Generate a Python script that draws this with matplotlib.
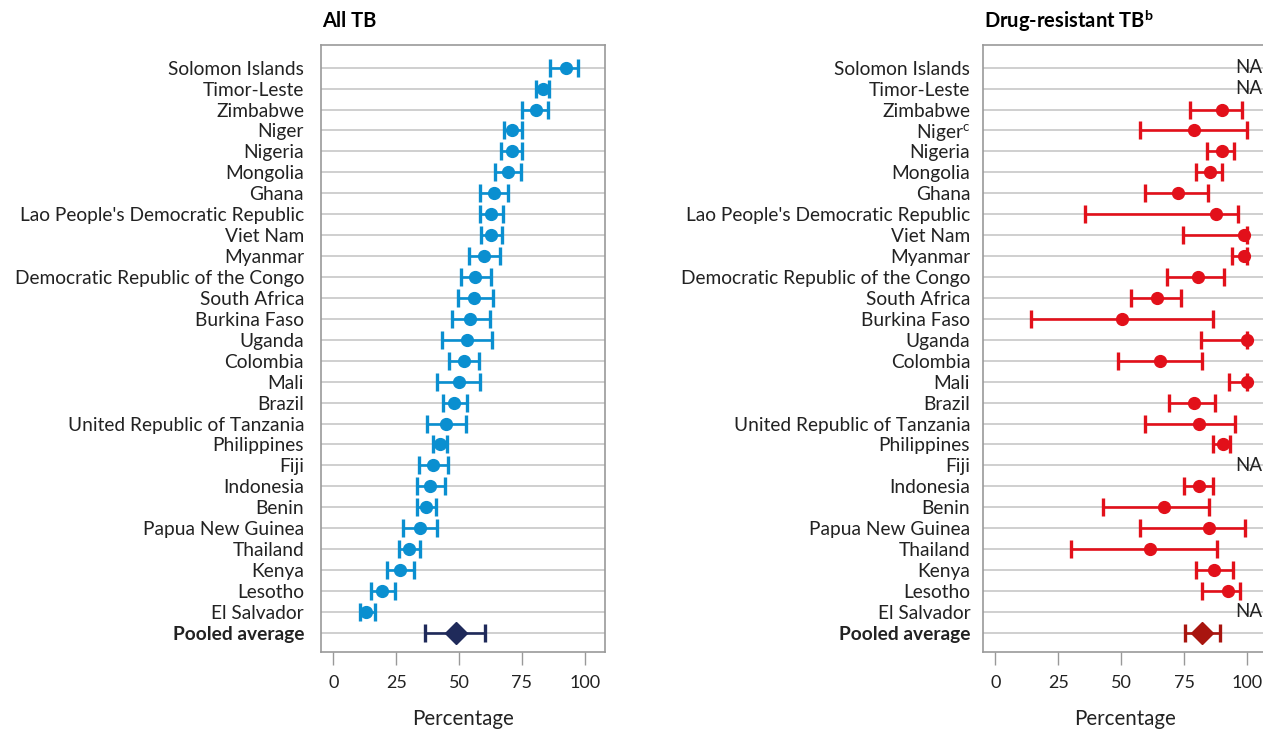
import numpy as np
import matplotlib.pyplot as plt

plt.rcParams['font.family'] = ['Lato', 'DejaVu Sans']
plt.rcParams['mathtext.fontset'] = 'custom'
plt.rcParams['mathtext.rm'] = 'Lato'
plt.rcParams['mathtext.bf'] = 'Lato:bold'

# countries, top to bottom
countries = ["Solomon Islands", "Timor-Leste", "Zimbabwe", "Niger", "Nigeria", "Mongolia",
             "Ghana", "Lao People's Democratic Republic", "Viet Nam", "Myanmar",
             "Democratic Republic of the Congo", "South Africa", "Burkina Faso", "Uganda",
             "Colombia", "Mali", "Brazil", "United Republic of Tanzania", "Philippines", "Fiji",
             "Indonesia", "Benin", "Papua New Guinea", "Thailand", "Kenya", "Lesotho", "El Salvador"]

# All TB: estimate, lower, upper
all_est = [92.4, 83.4, 80.4, 71.2, 71.0, 69.3, 63.8, 62.8, 62.6, 60.1, 56.5, 56.1, 54.4, 53.3,
           51.8, 49.8, 48.0, 44.9, 42.5, 39.7, 38.5, 36.9, 34.3, 30.0, 26.4, 19.2, 13.0]
all_lo = [86.1, 80.5, 75.0, 67.8, 66.6, 64.2, 58.5, 58.3, 58.6, 53.9, 50.7, 49.5, 47.2, 43.3,
          46.1, 41.3, 43.5, 37.3, 39.6, 34.0, 33.2, 33.2, 27.6, 26.0, 21.4, 15.0, 10.7]
all_hi = [97.1, 85.8, 85.2, 75.2, 75.2, 74.6, 69.4, 67.3, 67.0, 66.2, 62.6, 63.3, 62.2, 63.1,
          57.9, 58.3, 53.0, 52.8, 45.4, 45.8, 44.3, 40.8, 41.4, 34.4, 31.9, 24.5, 16.6]
all_pool = [48.6, 36.5, 60.5]

# Drug-resistant TB (None = NA)
dr_est = [None, None, 90.2, 79.1, 90.0, 85.3, 72.8, 87.6, 98.7, 99.0, 80.7, 64.3, 50.2, 100.0,
          65.4, 100.0, 78.9, 80.8, 90.4, None, 81.1, 67.1, 84.8, 61.4, 86.9, 92.4, None]
dr_lo = [None, None, 77.2, 57.7, 84.0, 79.9, 59.3, 35.7, 74.4, 93.9, 68.2, 53.8, 14.3, 81.9,
         48.9, 92.7, 69.2, 59.3, 86.4, None, 75.1, 42.7, 57.7, 30.2, 79.6, 82.0, None]
dr_hi = [None, None, 97.9, 100.0, 95.0, 90.0, 84.4, 96.3, 100.0, 100.0, 90.9, 74.0, 86.4, 100.0,
         82.0, 100.0, 87.3, 95.3, 93.1, None, 86.4, 84.9, 99.1, 88.0, 94.3, 97.1, None]
dr_pool = [82.3, 75.2, 89.4]

fig = plt.figure(figsize=(12.63, 7.31), dpi=100)
ax1 = fig.add_axes([0.2539, 0.1085, 0.2251, 0.8304])
ax2 = fig.add_axes([0.7781, 0.1085, 0.2251, 0.8304])

n = len(countries)
rows = np.arange(n + 1)

def style(ax, labels, pad):
    ax.set_xlim(-5, 108)
    ax.set_ylim(n + 0.9, -1.1)
    ax.set_yticks(rows)
    ax.set_yticklabels(labels, fontsize=13.8, color='#222222')
    ax.get_yticklabels()[-1].set_fontweight('bold')
    ax.tick_params(axis='y', length=0, pad=pad)
    ax.set_xticks([0, 25, 50, 75, 100])
    ax.tick_params(axis='x', length=9, color='#999999', width=1, labelsize=13, pad=8,
                   labelcolor='#222222')
    ax.grid(axis='y', color='#cccccc', linewidth=1.3)
    ax.set_axisbelow(True)
    for s in ax.spines.values():
        s.set_color('#999999')
        s.set_linewidth(1.2)
    ax.set_xlabel('Percentage', fontsize=14.8, labelpad=13, color='#222222')

style(ax1, countries + ['Pooled average'], 12)
dr_labels = list(countries)
dr_labels[3] = r'Niger$^{\mathrm{c}}$'
style(ax2, dr_labels + ['Pooled average'], 9)

blue = '#0a8fd0'
red = '#e2101a'

est = np.array(all_est)
ax1.errorbar(est, rows[:n], xerr=[est - np.array(all_lo), np.array(all_hi) - est],
             fmt='o', color=blue, ms=8.5, capsize=6.5, capthick=2.4, elinewidth=1.9, zorder=3)
ax1.errorbar([all_pool[0]], [n], xerr=[[all_pool[0] - all_pool[1]], [all_pool[2] - all_pool[0]]],
             fmt='D', color='#1f2a5a', ms=11, capsize=6.5, capthick=2.4, elinewidth=1.9, zorder=3)

for i in range(n):
    if dr_est[i] is None:
        ax2.text(106.0, i, 'NA', ha='right', va='center', fontsize=13.5, color='#222222')
        continue
    e = dr_est[i]
    ax2.errorbar([e], [i], xerr=[[e - dr_lo[i]], [dr_hi[i] - e]], fmt='o', color=red, ms=8.5,
                 capsize=6.5, capthick=2.4, elinewidth=1.9, zorder=3, clip_on=False)
ax2.errorbar([dr_pool[0]], [n], xerr=[[dr_pool[0] - dr_pool[1]], [dr_pool[2] - dr_pool[0]]],
             fmt='D', color='#a8150f', ms=11, capsize=6.5, capthick=2.4, elinewidth=1.9, zorder=3)

fig.text(322 / 1263, 1 - 21 / 731, 'All TB', fontsize=14.5, fontweight='bold', va='center')
fig.text(984 / 1263, 1 - 21 / 731, r'Drug-resistant TB$^{\mathbf{b}}$', fontsize=14.5,
         fontweight='bold', va='center')

fig.savefig('out.png', dpi=100)
